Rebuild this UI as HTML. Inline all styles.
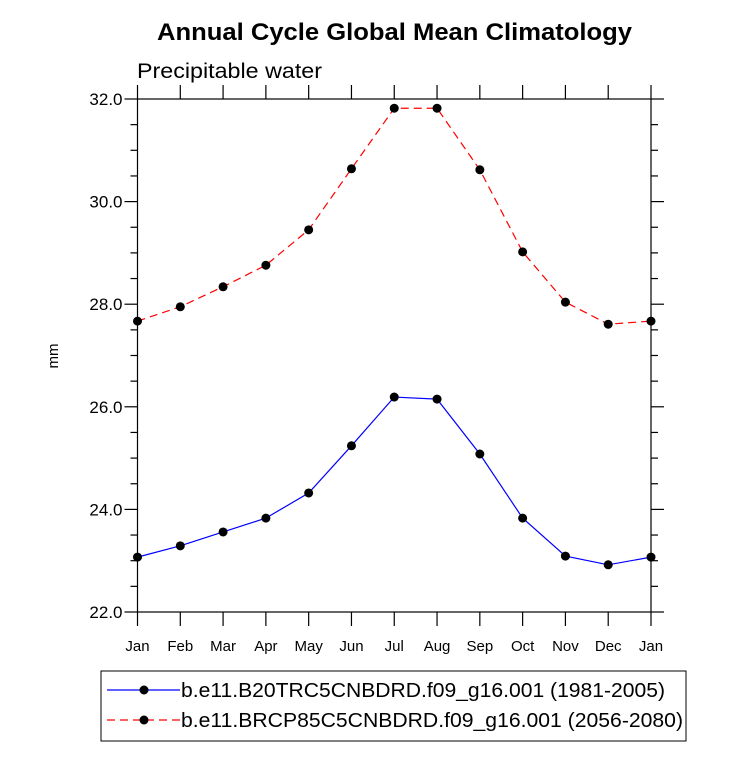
<!DOCTYPE html>
<html><head><meta charset="utf-8"><style>
body{margin:0;background:#fff;}
svg{display:block;font-family:"Liberation Sans",Arial,sans-serif;}
</style></head><body>
<svg id="chart" width="733" height="760">
<text x="157" y="40" textLength="475" lengthAdjust="spacingAndGlyphs" font-size="24" font-weight="bold">Annual Cycle Global Mean Climatology</text>
<text x="137" y="78" textLength="185" lengthAdjust="spacingAndGlyphs" font-size="21">Precipitable water</text>
<text transform="translate(58,356) rotate(-90)" text-anchor="middle" font-size="15">mm</text>
<g id="axes"></g>
<g id="series"></g>
<rect x="101" y="671" width="585" height="70" fill="none" stroke="#000" stroke-width="1"/>
<g>
<line x1="107" y1="690" x2="180" y2="690" stroke="#0000ff" stroke-width="1.2"/>
<circle cx="144" cy="690" r="4.5" fill="#000"/>
<text x="181" y="697" textLength="484" lengthAdjust="spacingAndGlyphs" font-size="20">b.e11.B20TRC5CNBDRD.f09_g16.001 (1981-2005)</text>
</g>
<g>
<line x1="107" y1="720" x2="180" y2="720" stroke="#ff0000" stroke-width="1.2" stroke-dasharray="8,5"/>
<circle cx="144" cy="720" r="4.5" fill="#000"/>
<text x="181" y="727" textLength="502" lengthAdjust="spacingAndGlyphs" font-size="20">b.e11.BRCP85C5CNBDRD.f09_g16.001 (2056-2080)</text>
</g>
</svg>
<script>
const months=["Jan","Feb","Mar","Apr","May","Jun","Jul","Aug","Sep","Oct","Nov","Dec","Jan"];
const histValues=[23.07,23.29,23.56,23.83,24.32,25.24,26.19,26.15,25.08,23.83,23.09,22.92,23.07];
const rcpValues=[27.67,27.95,28.34,28.76,29.45,30.64,31.82,31.82,30.62,29.02,28.04,27.61,27.67];
const yTicks=[22,24,26,28,30,32];
const yTickLabels=["22.0","24.0","26.0","28.0","30.0","32.0"];
const X0=137.5,X1=651,Y0=612,Y1=99,YMIN=22,YMAX=32;
const ns="http://www.w3.org/2000/svg";
function xs(i){return X0+(X1-X0)*i/(months.length-1);}
function ys(v){return Y0-(v-YMIN)/(YMAX-YMIN)*(Y0-Y1);}
function mk(tag,attrs,parent){const e=document.createElementNS(ns,tag);for(const k in attrs)e.setAttribute(k,attrs[k]);parent.appendChild(e);return e;}
const ax=document.getElementById('axes');
const frame=mk('rect',{x:X0,y:Y1,width:X1-X0,height:Y0-Y1,fill:'none',stroke:'#000','stroke-width':1.2},ax);


for(let v=YMIN;v<=YMAX+1e-9;v+=0.5){
  const major=Math.abs(v-Math.round(v/2)*2)<1e-6;const L=major?13:7;const y=ys(v);
  const t1=mk('line',{x1:X0-L,y1:y,x2:X0,y2:y,stroke:'#000','stroke-width':1.2},ax);
  
  
  const t2=mk('line',{x1:X1,y1:y,x2:X1+L,y2:y,stroke:'#000','stroke-width':1.2},ax);
  
  
}
yTicks.forEach((v,i)=>{
  const t=mk('text',{x:X0-15,y:ys(v)+6,'text-anchor':'end','font-size':17},ax);t.textContent=yTickLabels[i];
  
  
});
months.forEach((m,i)=>{
  const x=xs(i);
  const a=mk('line',{x1:x,y1:Y0,x2:x,y2:Y0+14,stroke:'#000','stroke-width':1.2},ax);
  
  
  const b=mk('line',{x1:x,y1:Y1-14,x2:x,y2:Y1,stroke:'#000','stroke-width':1.2},ax);
  
  
  const t=mk('text',{x:x,y:651,'text-anchor':'middle','font-size':15},ax);t.textContent=m;
  
  
});
const sg=document.getElementById('series');
function drawSeries(vals,color,dash,name){
  const pts=vals.map((v,i)=>xs(i)+','+ys(v)).join(' ');
  const pl=mk('polyline',{points:pts,fill:'none',stroke:color,'stroke-width':1.2,'stroke-dasharray':dash},sg);
  
  
  vals.forEach((v,i)=>{
    const c=mk('circle',{cx:xs(i),cy:ys(v),r:4.5,fill:'#000'},sg);
    
    
  });
}
drawSeries(histValues,'#0000ff','none','historical');
drawSeries(rcpValues,'#ff0000','8,5','rcp85');
</script>
</body></html>
